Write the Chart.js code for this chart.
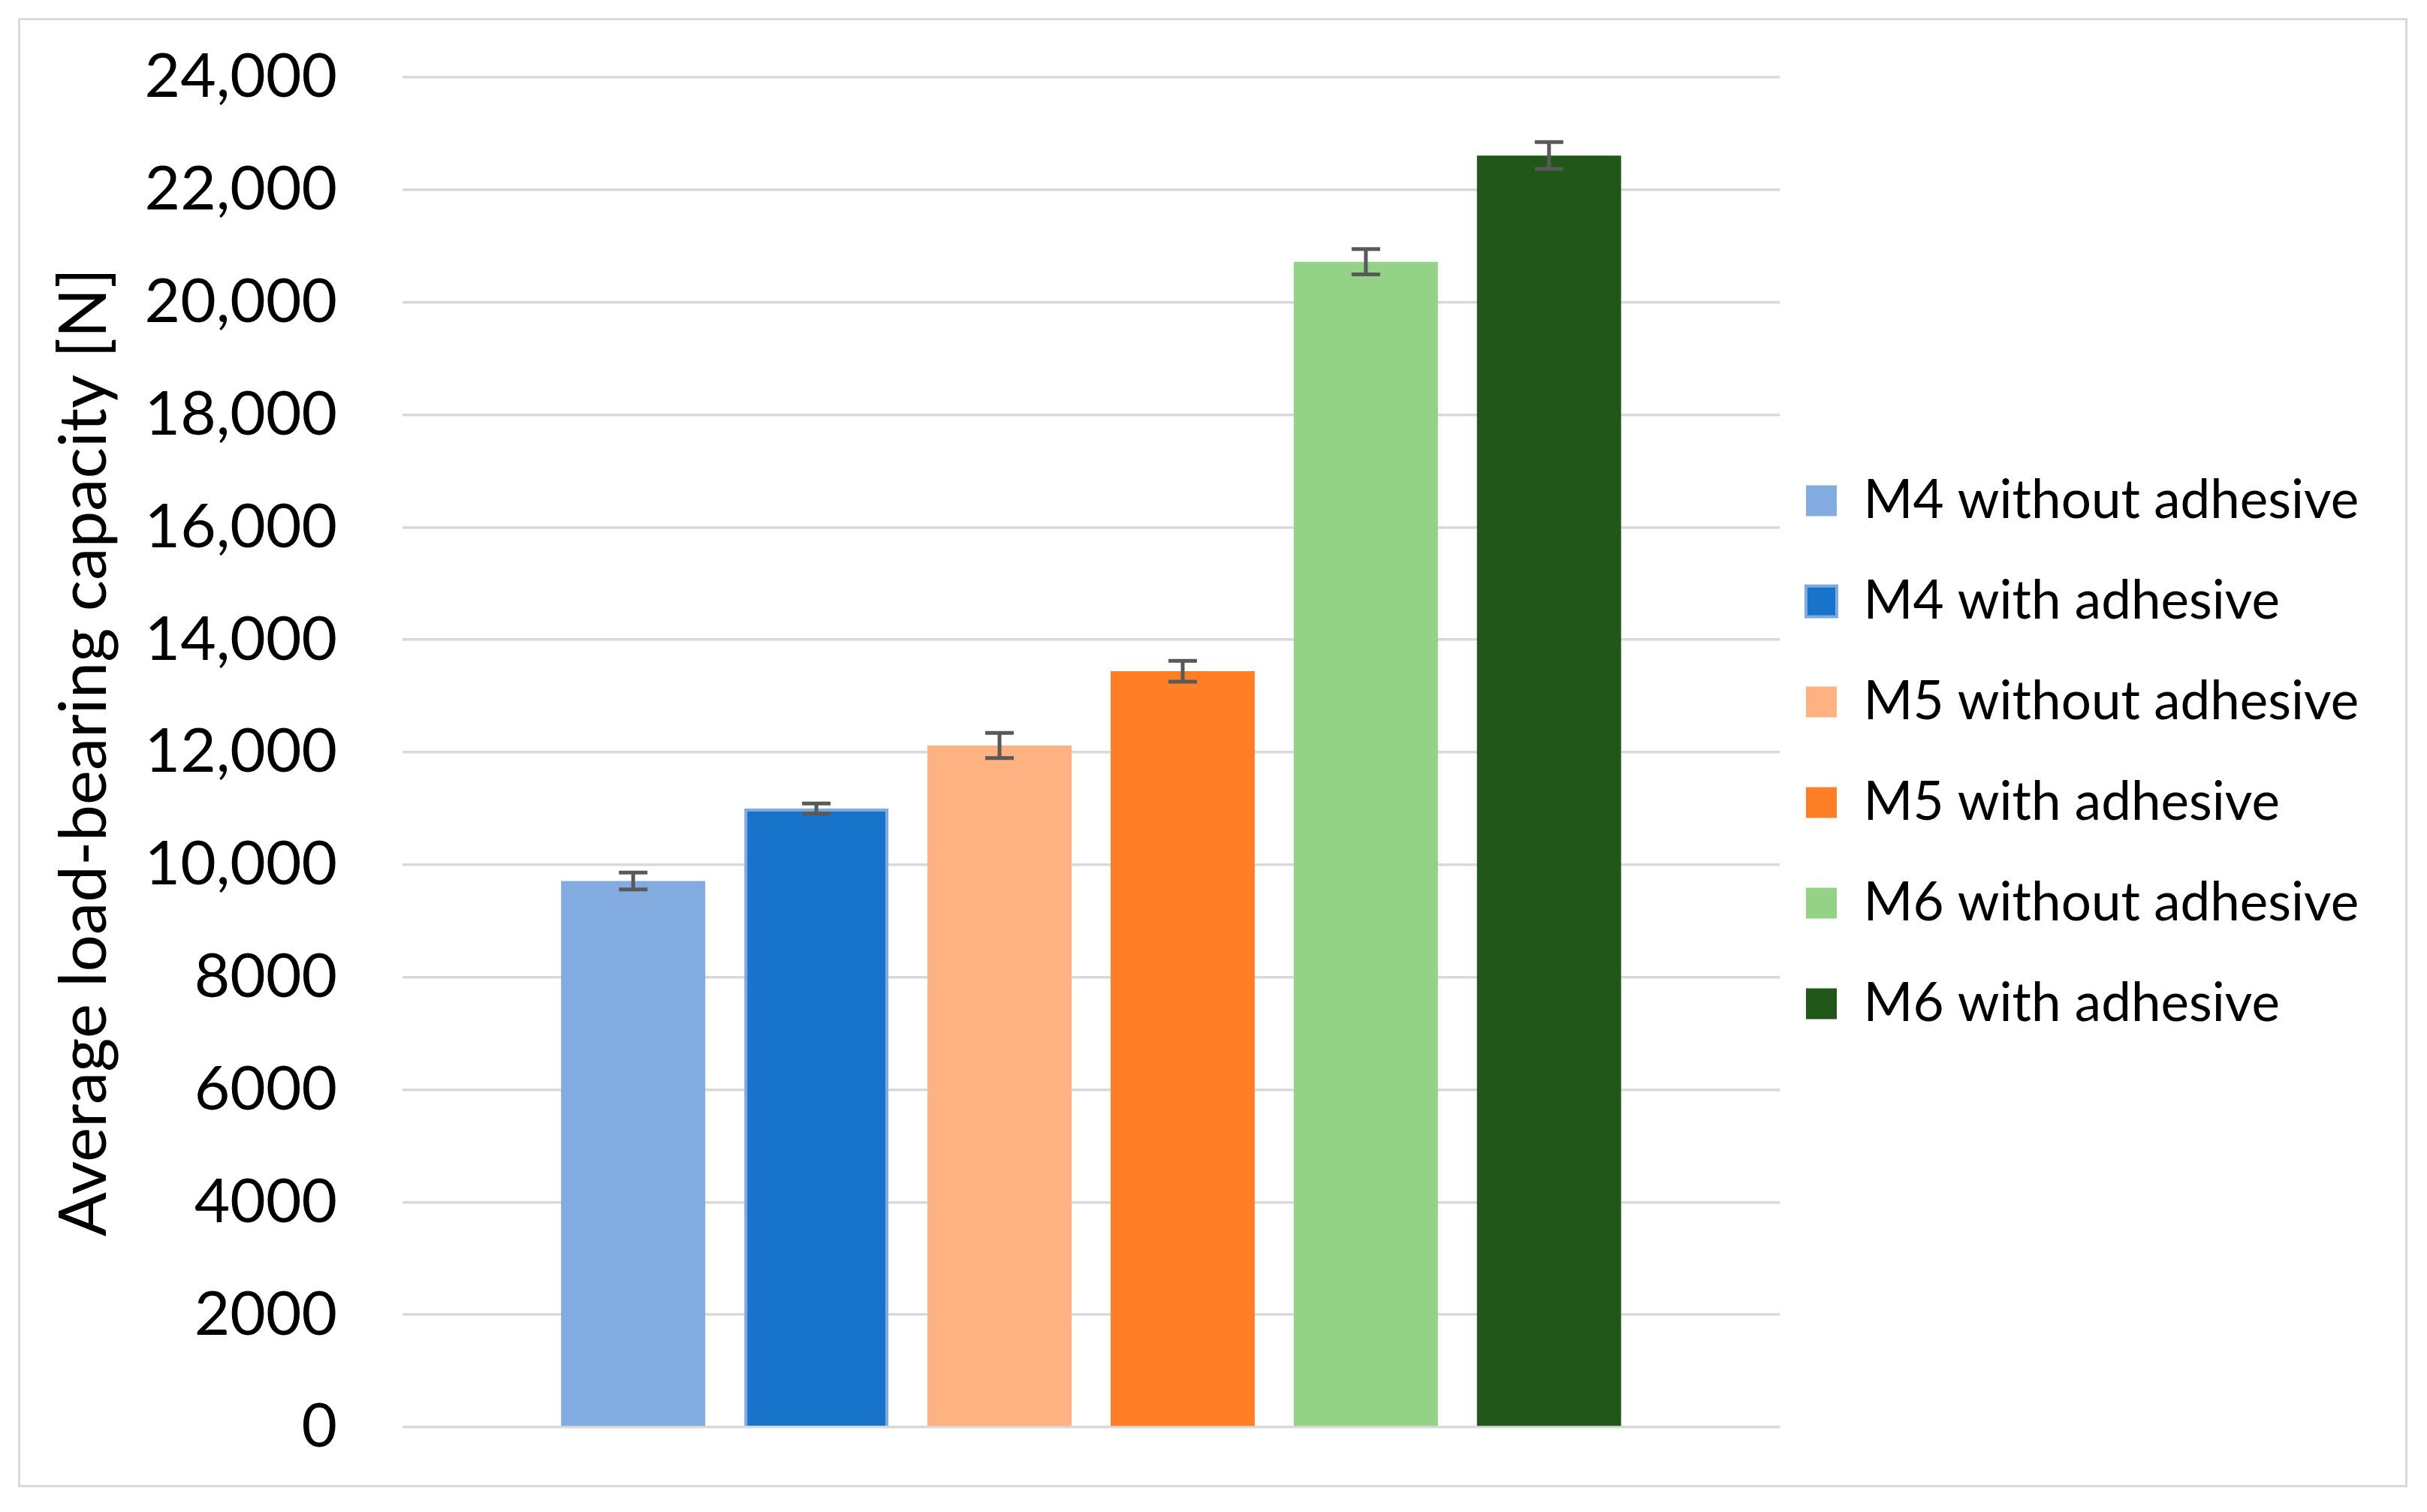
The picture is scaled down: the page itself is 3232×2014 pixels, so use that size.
<!DOCTYPE html>
<html>
<head>
<meta charset="utf-8">
<script src="https://cdn.jsdelivr.net/npm/chart.js@4"></script>
<style>
  html, body { margin: 0; padding: 0; background: #fff; }
  #frame {
    position: absolute; left: 24px; top: 24px;
    width: 3182px; height: 1957px;
    border: 3px solid #d9d9d9; box-sizing: border-box;
  }
  canvas { display: block; }
</style>
</head>
<body>
<div id="frame"><canvas id="load-chart" width="3176" height="1951"></canvas></div>
<script>
const seriesNames = ["M4 without adhesive", "M4 with adhesive", "M5 without adhesive",
                     "M5 with adhesive", "M6 without adhesive", "M6 with adhesive"];
const loadValues = [9710, 11000, 12120, 13440, 20720, 22610];
const loadErrors = [150, 90, 225, 185, 225, 240];
const barColors = ["#82abdf", "#1874ca", "#ffb281", "#ff7f27", "#94d288", "#215718"];
const categories = [""];

const legendFont = 71;
const legendPad = 63;
const legendBox = 41;
const legendShift = 28;
const plotRight = 2343;

// legend width is known up front so the plot keeps its right edge
const measure = document.createElement("canvas").getContext("2d");
measure.font = legendFont + "px Lato";
const maxText = Math.max(...seriesNames.map(s => measure.measureText(s).width));
const legendWidth = legendPad + legendBox + legendFont / 2 + maxText + 10;
const padRight = Math.max(0, 3176 - plotRight - legendWidth);

const errorBars = {
    id: "errorBars",
    afterDatasetsDraw(chart) {
        const ctx = chart.ctx;
        const y = chart.scales.y;
        ctx.save();
        ctx.strokeStyle = "#595959";
        ctx.lineWidth = 5;
        chart.data.datasets.forEach((ds, i) => {
            const bar = chart.getDatasetMeta(i).data[0];
            if (!bar) return;
            const top = y.getPixelForValue(loadValues[i] + loadErrors[i]);
            const bottom = y.getPixelForValue(loadValues[i] - loadErrors[i]);
            ctx.beginPath();
            ctx.moveTo(bar.x, top);
            ctx.lineTo(bar.x, bottom);
            ctx.moveTo(bar.x - 19, top);
            ctx.lineTo(bar.x + 19, top);
            ctx.moveTo(bar.x - 19, bottom);
            ctx.lineTo(bar.x + 19, bottom);
            ctx.stroke();
        });
        ctx.restore();
    }
};

// pull the legend a bit towards the plot (label gap is smaller than the row gap)
const nudgeLegend = {
    id: "nudgeLegend",
    afterLayout(chart) {
        if (chart.legend) chart.legend.left -= legendShift;
    }
};

const datasets = seriesNames.map((name, i) => ({
    label: name,
    data: [loadValues[i]],
    backgroundColor: barColors[i],
    borderColor: i === 1 ? "#7faae0" : barColors[i],
    borderWidth: i === 1 ? 4 : 0,
    barPercentage: 0.787,
    categoryPercentage: 0.798
}));

new Chart(document.getElementById("load-chart").getContext("2d"), {
    type: "bar",
    data: { labels: categories, datasets: datasets },
    options: {
        responsive: false,
        animation: false,
        devicePixelRatio: 1,
        layout: { padding: { left: 30, right: padRight, top: 76, bottom: 77 } },
        plugins: {
            tooltip: { enabled: false },
            legend: {
                position: "right",
                maxWidth: 2000,
                labels: {
                    color: "#000",
                    boxWidth: legendBox,
                    boxHeight: legendBox,
                    padding: legendPad,
                    font: { family: "Lato", size: legendFont }
                }
            }
        },
        scales: {
            x: { display: false },
            y: {
                min: 0,
                max: 24000,
                afterFit(scale) { scale.width = 479; },
                border: { display: false },
                grid: { color: "#d9d9d9", lineWidth: 3.5, tickLength: 84, tickColor: "rgba(0,0,0,0)" },
                ticks: {
                    stepSize: 2000,
                    padding: 3,
                    color: "#000",
                    font: { family: "Lato", size: 82 },
                    callback: v => v >= 10000 ? v.toLocaleString("en-US") : String(v)
                },
                title: {
                    display: true,
                    text: "Average load-bearing capacity [N]",
                    color: "#000",
                    font: { family: "Lato", size: 87 }
                }
            }
        }
    },
    plugins: [errorBars, nudgeLegend]
});
</script>
</body>
</html>
